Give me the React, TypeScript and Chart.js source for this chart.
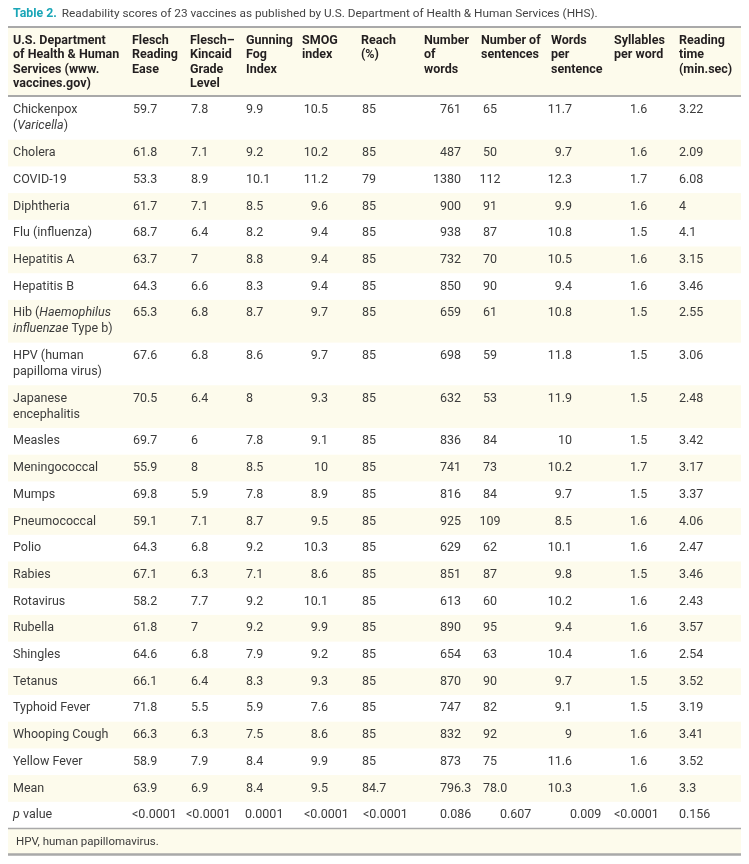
import React, { useEffect, useRef } from "react";
import { Chart, registerables } from "chart.js";

Chart.register(...registerables);

// ---------- DATA ----------
const titleLabel = "Table 2.";
const titleText =
  "Readability scores of 23 vaccines as published by U.S. Department of Health & Human Services (HHS).";
const footnote = "HPV, human papillomavirus.";

const headers: string[][] = [
  ["U.S. Department", "of Health & Human", "Services (www.", "vaccines.gov)"],
  ["Flesch", "Reading", "Ease"],
  ["Flesch–", "Kincaid", "Grade", "Level"],
  ["Gunning", "Fog", "Index"],
  ["SMOG", "index"],
  ["Reach", "(%)"],
  ["Number", "of", "words"],
  ["Number of", "sentences"],
  ["Words", "per", "sentence"],
  ["Syllables", "per word"],
  ["Reading", "time", "(min.sec)"],
];

const vaccines: string[][] = [
  ["Chickenpox", "(*Varicella*)"],
  ["Cholera"],
  ["COVID-19"],
  ["Diphtheria"],
  ["Flu (influenza)"],
  ["Hepatitis A"],
  ["Hepatitis B"],
  ["Hib (*Haemophilus*", "*influenzae* Type b)"],
  ["HPV (human", "papilloma virus)"],
  ["Japanese", "encephalitis"],
  ["Measles"],
  ["Meningococcal"],
  ["Mumps"],
  ["Pneumococcal"],
  ["Polio"],
  ["Rabies"],
  ["Rotavirus"],
  ["Rubella"],
  ["Shingles"],
  ["Tetanus"],
  ["Typhoid Fever"],
  ["Whooping Cough"],
  ["Yellow Fever"],
];

const fleschReadingEase = [59.7, 61.8, 53.3, 61.7, 68.7, 63.7, 64.3, 65.3, 67.6, 70.5, 69.7, 55.9, 69.8, 59.1, 64.3, 67.1, 58.2, 61.8, 64.6, 66.1, 71.8, 66.3, 58.9];
const fleschKincaid = [7.8, 7.1, 8.9, 7.1, 6.4, 7, 6.6, 6.8, 6.8, 6.4, 6, 8, 5.9, 7.1, 6.8, 6.3, 7.7, 7, 6.8, 6.4, 5.5, 6.3, 7.9];
const gunningFog = [9.9, 9.2, 10.1, 8.5, 8.2, 8.8, 8.3, 8.7, 8.6, 8, 7.8, 8.5, 7.8, 8.7, 9.2, 7.1, 9.2, 9.2, 7.9, 8.3, 5.9, 7.5, 8.4];
const smogIndex = [10.5, 10.2, 11.2, 9.6, 9.4, 9.4, 9.4, 9.7, 9.7, 9.3, 9.1, 10, 8.9, 9.5, 10.3, 8.6, 10.1, 9.9, 9.2, 9.3, 7.6, 8.6, 9.9];
const reach = [85, 85, 79, 85, 85, 85, 85, 85, 85, 85, 85, 85, 85, 85, 85, 85, 85, 85, 85, 85, 85, 85, 85];
const numberOfWords = [761, 487, 1380, 900, 938, 732, 850, 659, 698, 632, 836, 741, 816, 925, 629, 851, 613, 890, 654, 870, 747, 832, 873];
const numberOfSentences = [65, 50, 112, 91, 87, 70, 90, 61, 59, 53, 84, 73, 84, 109, 62, 87, 60, 95, 63, 90, 82, 92, 75];
const wordsPerSentence = [11.7, 9.7, 12.3, 9.9, 10.8, 10.5, 9.4, 10.8, 11.8, 11.9, 10, 10.2, 9.7, 8.5, 10.1, 9.8, 10.2, 9.4, 10.4, 9.7, 9.1, 9, 11.6];
const syllablesPerWord = [1.6, 1.6, 1.7, 1.6, 1.5, 1.6, 1.6, 1.5, 1.5, 1.5, 1.5, 1.7, 1.5, 1.6, 1.6, 1.5, 1.6, 1.6, 1.6, 1.5, 1.5, 1.6, 1.6];
const readingTime = [3.22, 2.09, 6.08, 4, 4.1, 3.15, 3.46, 2.55, 3.06, 2.48, 3.42, 3.17, 3.37, 4.06, 2.47, 3.46, 2.43, 3.57, 2.54, 3.52, 3.19, 3.41, 3.52];

const meanLabel = "Mean";
const meanValues = ["63.9", "6.9", "8.4", "9.5", "84.7", "796.3", "78.0", "10.3", "1.6", "3.3"];
const pLabel = "*p* value";
const pValues = ["<0.0001", "<0.0001", "0.0001", "<0.0001", "<0.0001", "0.086", "0.607", "0.009", "<0.0001", "0.156"];

const series = [
  fleschReadingEase, fleschKincaid, gunningFog, smogIndex, reach,
  numberOfWords, numberOfSentences, wordsPerSentence, syllablesPerWord, readingTime,
];

// ---------- LAYOUT / STYLE ----------
const W = 733;
const H = 848;
const FONT = "Roboto, 'Liberation Sans', sans-serif";
const CREAM = "#fdfbec";
const RULE = "#a9a9a9";
const TEXT = "#3c3c3c";
const HEAD_TEXT = "#231f20";
const TEAL = "#1aa6b7";

const TITLE_Y = 6;
const TITLE_SIZE = 11.8;
const HEADER_TOP = 19;
const HEADER_BOTTOM = 88;
const HEADER_FIRST = 33;
const HEADER_LINE = 14.3;
const BODY_TOP = 89;
const LINE = 16;
const PAD = 5.35;

const headerX = [5, 124, 182, 238, 294, 353, 416, 473, 543, 606, 671];
type Anchor = { x: number; align: CanvasTextAlign };
const bodyAnchors: Anchor[] = [
  { x: 125, align: "left" }, { x: 183, align: "left" }, { x: 238, align: "left" },
  { x: 320, align: "right" }, { x: 354, align: "left" }, { x: 453, align: "right" },
  { x: 482, align: "center" }, { x: 564, align: "right" }, { x: 622, align: "left" },
  { x: 671, align: "left" },
];
const meanAnchors: Anchor[] = [
  { x: 125, align: "left" }, { x: 183, align: "left" }, { x: 238, align: "left" },
  { x: 320, align: "right" }, { x: 354, align: "left" }, { x: 432, align: "left" },
  { x: 475, align: "left" }, { x: 564, align: "right" }, { x: 622, align: "left" },
  { x: 671, align: "left" },
];
const pAnchors: Anchor[] = [
  { x: 124, align: "left" }, { x: 178, align: "left" }, { x: 237, align: "left" },
  { x: 296, align: "left" }, { x: 355, align: "left" }, { x: 432, align: "left" },
  { x: 492, align: "left" }, { x: 562, align: "left" }, { x: 606, align: "left" },
  { x: 671, align: "left" },
];

function drawRich(ctx: CanvasRenderingContext2D, text: string, x: number, y: number, size: number, weight: string) {
  const parts = text.split("*");
  let cx = x;
  parts.forEach((p, i) => {
    if (!p) return;
    ctx.font = `${i % 2 === 1 ? "italic " : ""}${weight} ${size}px ${FONT}`;
    ctx.textAlign = "left";
    ctx.fillText(p, cx, y);
    cx += ctx.measureText(p).width;
  });
}

const tablePlugin = {
  id: "tablePlugin",
  afterDraw(chart: any) {
    const ctx: CanvasRenderingContext2D = chart.ctx;
    const xs = chart.scales.x;
    const ys = chart.scales.y;
    const px = (v: number) => xs.getPixelForValue(v);
    const py = (v: number) => ys.getPixelForValue(v);
    ctx.save();
    ctx.textBaseline = "middle";

    // title
    ctx.fillStyle = TEAL;
    ctx.font = `bold ${TITLE_SIZE + 0.5}px ${FONT}`;
    ctx.textAlign = "left";
    ctx.fillText(titleLabel, px(5), py(TITLE_Y));
    const tw = ctx.measureText(titleLabel).width;
    ctx.fillStyle = "#444";
    ctx.font = `${TITLE_SIZE}px ${FONT}`;
    ctx.fillText(titleText, px(5) + tw + 5, py(TITLE_Y));

    // header band
    ctx.fillStyle = CREAM;
    ctx.fillRect(px(0), py(HEADER_TOP), px(W) - px(0), py(HEADER_BOTTOM) - py(HEADER_TOP));

    // rows
    type Row = { lines: string[]; values: string[]; anchors: Anchor[] };
    const rows: Row[] = vaccines.map((lines, i) => ({
      lines,
      values: series.map((s) => String(s[i])),
      anchors: bodyAnchors,
    }));
    rows.push({ lines: [meanLabel], values: meanValues, anchors: meanAnchors });
    rows.push({ lines: [pLabel], values: pValues, anchors: pAnchors });

    let y = BODY_TOP;
    const tops: number[] = [];
    rows.forEach((r, i) => {
      const h = PAD * 2 + r.lines.length * LINE;
      tops.push(y);
      if (i % 2 === 1) {
        ctx.fillStyle = CREAM;
        ctx.fillRect(px(0), py(y), px(W) - px(0), py(y + h) - py(y));
      }
      y += h;
    });
    const bodyBottom = y;

    // footnote band
    ctx.fillStyle = CREAM;
    ctx.fillRect(px(0), py(bodyBottom), px(W) - px(0), py(H - 1.5) - py(bodyBottom));

    // header text
    ctx.fillStyle = HEAD_TEXT;
    headers.forEach((lines, c) => {
      lines.forEach((ln, k) => {
        ctx.font = `bold 12.5px ${FONT}`;
        ctx.textAlign = "left";
        ctx.fillText(ln, px(headerX[c]), py(HEADER_FIRST + k * HEADER_LINE));
      });
    });

    // body text
    ctx.fillStyle = TEXT;
    rows.forEach((r, i) => {
      const first = tops[i] + PAD + LINE / 2;
      r.lines.forEach((ln, k) => drawRich(ctx, ln, px(5), py(first + k * LINE), 12.5, "normal"));
      r.values.forEach((v, c) => {
        const a = r.anchors[c];
        ctx.font = `12.5px ${FONT}`;
        ctx.textAlign = a.align;
        ctx.fillText(v, px(a.x), py(first));
      });
    });

    // footnote
    ctx.font = `11.5px ${FONT}`;
    ctx.textAlign = "left";
    ctx.fillStyle = TEXT;
    ctx.fillText(footnote, px(8), py((bodyBottom + H) / 2));

    // rules
    ctx.strokeStyle = RULE;
    const rule = (yy: number, w: number) => {
      ctx.lineWidth = w;
      ctx.beginPath();
      ctx.moveTo(px(0), py(yy));
      ctx.lineTo(px(W), py(yy));
      ctx.stroke();
    };
    rule(HEADER_TOP, 2);
    rule(HEADER_BOTTOM, 2);
    rule(bodyBottom, 1.5);
    rule(H - 1.5, 2.5);

    ctx.restore();
  },
};

export default function App() {
  const ref = useRef<HTMLCanvasElement>(null);
  useEffect(() => {
    const chart = new Chart(ref.current as HTMLCanvasElement, {
      type: "scatter",
      data: { datasets: [] },
      options: {
        responsive: false,
        animation: false,
        layout: { padding: 0 },
        plugins: { legend: { display: false }, tooltip: { enabled: false }, title: { display: false } },
        scales: {
          x: { type: "linear", min: 0, max: W, display: false },
          y: { type: "linear", min: 0, max: H, reverse: true, display: false },
        },
      },
      plugins: [tablePlugin],
    });
    return () => chart.destroy();
  }, []);
  return <canvas ref={ref} width={W} height={H} style={{ display: "block" }} />;
}
